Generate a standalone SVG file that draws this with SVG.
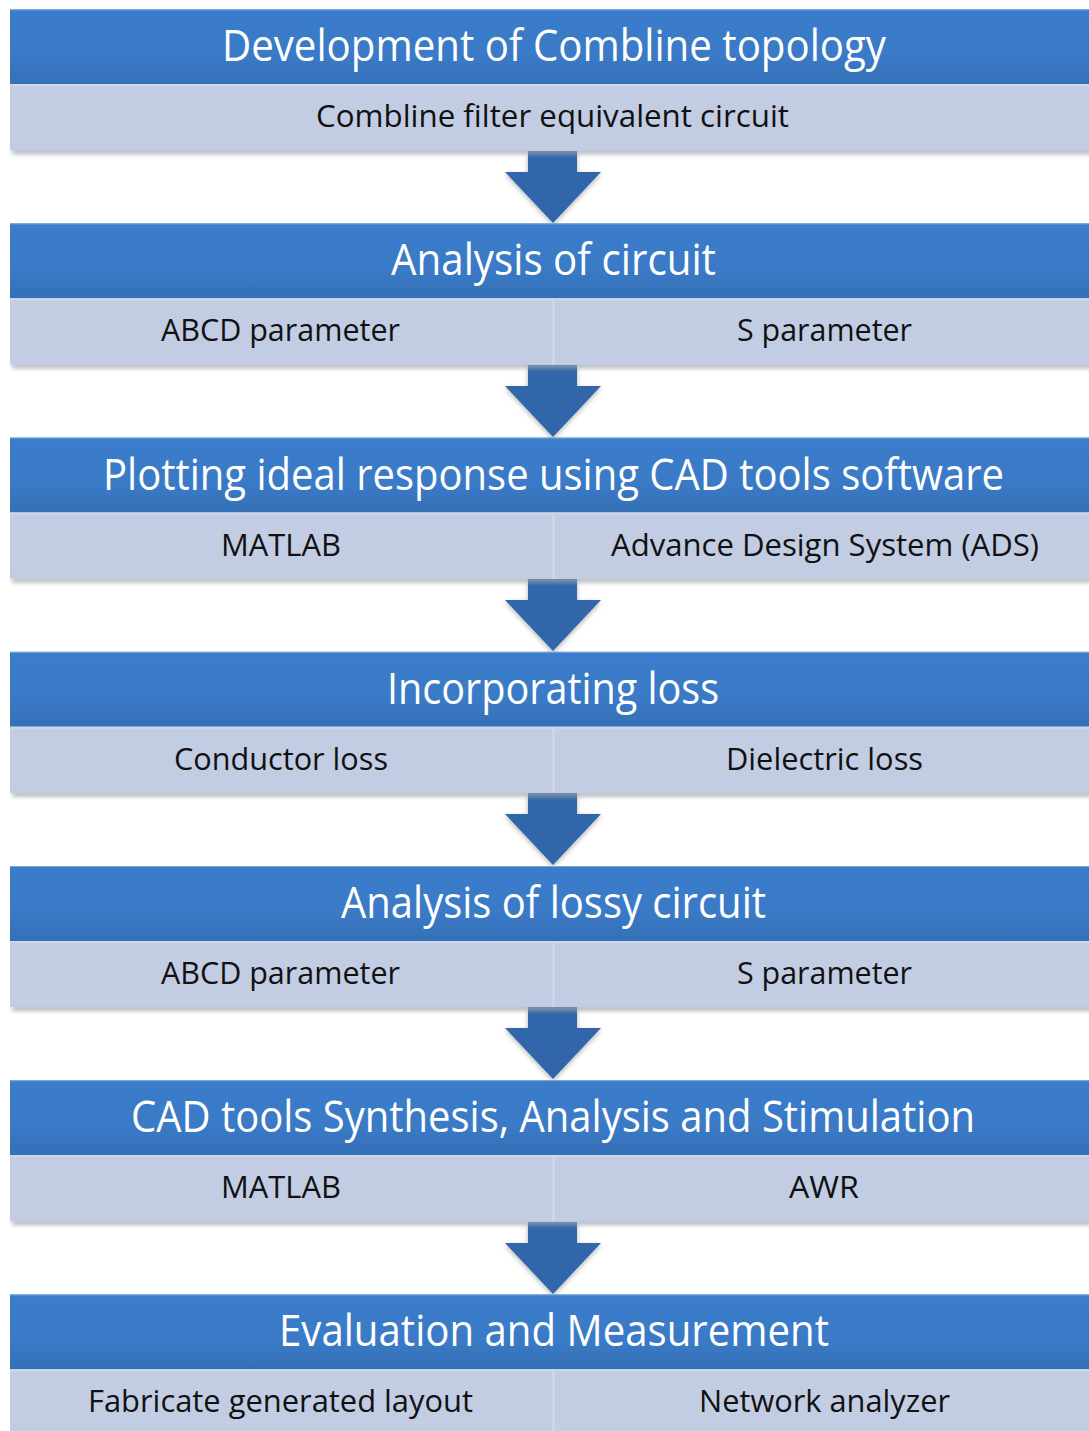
<svg xmlns="http://www.w3.org/2000/svg" width="1089" height="1431" viewBox="0 0 1089 1431">
  <style>
    .hdr { fill: url(#hdrGrad); }
    .hdrEdge { fill: #7FA6DA; }
    .sub { fill: #C2CDE3; }
    .subEdge { fill: #CFD8EA; }
    .divider { stroke: #D3DBEC; stroke-width: 2; }
    .shadow { fill: #9EA4AE; opacity: 0.75; }
    .arrow { fill: #3066AB; }
    .title { font-family: "Open Sans", "Liberation Sans", sans-serif; font-size: 44px; fill: #FFFFFF; text-anchor: middle; }
    .item { font-family: "Open Sans", "Liberation Sans", sans-serif; font-size: 31px; fill: #111111; text-anchor: middle; }
  </style>
  <defs>
    <linearGradient id="hdrGrad" x1="0" y1="0" x2="0" y2="1">
      <stop offset="0" stop-color="#3B7DCB"/>
      <stop offset="0.6" stop-color="#3A7AC7"/>
      <stop offset="1" stop-color="#3570B6"/>
    </linearGradient>
    <filter id="soft" x="-10%" y="-50%" width="120%" height="200%">
      <feGaussianBlur stdDeviation="2"/>
    </filter>
    <filter id="arrowShadow" x="-20%" y="-20%" width="140%" height="140%">
      <feDropShadow dx="0" dy="2" stdDeviation="2.5" flood-color="#000000" flood-opacity="0.3"/>
    </filter>
    <!-- down arrow, origin at the bottom edge of a block -->
    <path id="downArrow" d="M528,0 H577 V21 H601 L553,72 L505,21 H528 Z"/>
    <!-- block frame: header band, item band, shadow -->
    <g id="frame">
      <rect class="shadow" x="12" y="139" width="1090" height="6" filter="url(#soft)"/>
      <rect class="hdr" x="10" y="0" width="1090" height="75"/>
      <rect class="hdrEdge" x="10" y="0" width="1090" height="1"/>
      <rect class="sub" x="10" y="75" width="1090" height="66"/>
      <rect class="subEdge" x="10" y="75" width="1090" height="2"/>
    </g>
  </defs>

  <!-- connectors between stages -->
  <g id="connectors">
    <use href="#downArrow" class="arrow" filter="url(#arrowShadow)" transform="translate(0,151)"/>
    <use href="#downArrow" class="arrow" filter="url(#arrowShadow)" transform="translate(0,365)"/>
    <use href="#downArrow" class="arrow" filter="url(#arrowShadow)" transform="translate(0,579)"/>
    <use href="#downArrow" class="arrow" filter="url(#arrowShadow)" transform="translate(0,793)"/>
    <use href="#downArrow" class="arrow" filter="url(#arrowShadow)" transform="translate(0,1007)"/>
    <use href="#downArrow" class="arrow" filter="url(#arrowShadow)" transform="translate(0,1222)"/>
  </g>

  <g id="stage1" transform="translate(0,9.3)">
    <use href="#frame"/>
    <text class="title" x="554" y="52" textLength="664" lengthAdjust="spacingAndGlyphs">Development of Combline topology</text>
    <text class="item" x="552.5" y="118" textLength="473" lengthAdjust="spacingAndGlyphs">Combline filter equivalent circuit</text>
  </g>

  <g id="stage2" transform="translate(0,223.4)">
    <use href="#frame"/>
    <line class="divider" x1="553.5" y1="77" x2="553.5" y2="141"/>
    <text class="title" x="553.5" y="52" textLength="325" lengthAdjust="spacingAndGlyphs">Analysis of circuit</text>
    <text class="item" x="280.5" y="118" textLength="239" lengthAdjust="spacingAndGlyphs">ABCD parameter</text>
    <text class="item" x="824.5" y="118" textLength="175" lengthAdjust="spacingAndGlyphs">S parameter</text>
  </g>

  <g id="stage3" transform="translate(0,437.6)">
    <use href="#frame"/>
    <line class="divider" x1="553.5" y1="77" x2="553.5" y2="141"/>
    <text class="title" x="553.5" y="52" textLength="901" lengthAdjust="spacingAndGlyphs">Plotting ideal response using CAD tools software</text>
    <text class="item" x="281" y="118" textLength="120" lengthAdjust="spacingAndGlyphs">MATLAB</text>
    <text class="item" x="825" y="118" textLength="428" lengthAdjust="spacingAndGlyphs">Advance Design System (ADS)</text>
  </g>

  <g id="stage4" transform="translate(0,651.8)">
    <use href="#frame"/>
    <line class="divider" x1="553.5" y1="77" x2="553.5" y2="141"/>
    <text class="title" x="553" y="52" textLength="332" lengthAdjust="spacingAndGlyphs">Incorporating loss</text>
    <text class="item" x="281" y="118" textLength="214" lengthAdjust="spacingAndGlyphs">Conductor loss</text>
    <text class="item" x="824.5" y="118" textLength="197" lengthAdjust="spacingAndGlyphs">Dielectric loss</text>
  </g>

  <g id="stage5" transform="translate(0,866)">
    <use href="#frame"/>
    <line class="divider" x1="553.5" y1="77" x2="553.5" y2="141"/>
    <text class="title" x="553.5" y="52" textLength="425" lengthAdjust="spacingAndGlyphs">Analysis of lossy circuit</text>
    <text class="item" x="280.5" y="118" textLength="239" lengthAdjust="spacingAndGlyphs">ABCD parameter</text>
    <text class="item" x="824.5" y="118" textLength="175" lengthAdjust="spacingAndGlyphs">S parameter</text>
  </g>

  <g id="stage6" transform="translate(0,1080.2)">
    <use href="#frame"/>
    <line class="divider" x1="553.5" y1="77" x2="553.5" y2="141"/>
    <text class="title" x="553" y="52" textLength="844" lengthAdjust="spacingAndGlyphs">CAD tools Synthesis, Analysis and Stimulation</text>
    <text class="item" x="281" y="118" textLength="120" lengthAdjust="spacingAndGlyphs">MATLAB</text>
    <text class="item" x="824" y="118" textLength="70" lengthAdjust="spacingAndGlyphs">AWR</text>
  </g>

  <g id="stage7" transform="translate(0,1294.4)">
    <use href="#frame"/>
    <line class="divider" x1="553.5" y1="77" x2="553.5" y2="141"/>
    <text class="title" x="554" y="52" textLength="550" lengthAdjust="spacingAndGlyphs">Evaluation and Measurement</text>
    <text class="item" x="280.5" y="118" textLength="385" lengthAdjust="spacingAndGlyphs">Fabricate generated layout</text>
    <text class="item" x="824.5" y="118" textLength="251" lengthAdjust="spacingAndGlyphs">Network analyzer</text>
  </g>
</svg>
